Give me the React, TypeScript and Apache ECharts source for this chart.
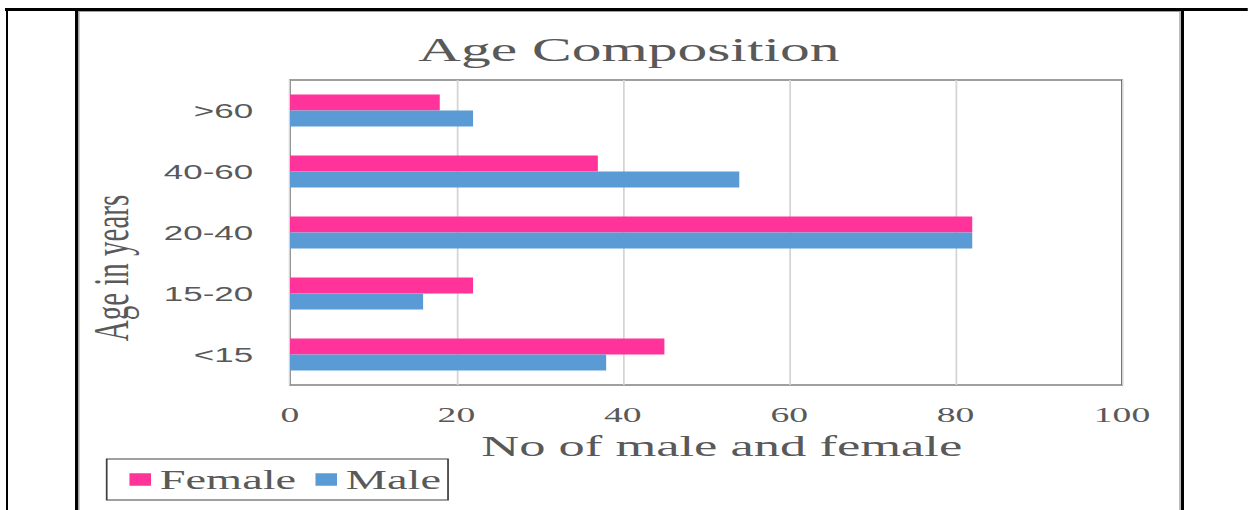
import React, { useEffect, useRef } from "react";
import * as echarts from "echarts";

// Data
const categories = ["<15", "15-20", "20-40", "40-60", ">60"];
const female = [45, 22, 82, 37, 18];
const male = [38, 16, 82, 54, 22];
const seriesNames = ["Female", "Male"];
const xMin = 0;
const xMax = 100;
const xInterval = 20;

// The reference is horizontally stretched; render narrower and stretch.
const S = 1.75;
const W = 1248;
const H = 510;
const IW = W / S;

const SERIF = "'Liberation Serif', 'Times New Roman', serif";
const SANS = "'Liberation Sans', Arial, sans-serif";
const TXT = "#595959";

export default function App() {
  const ref = useRef<HTMLDivElement>(null);
  useEffect(() => {
    if (!ref.current) return;
    const chart = echarts.init(ref.current, null, { renderer: "svg" });
    const sx = (v: number) => v / S;
    const rect = (x: number, y: number, w: number, h: number, fill: string) => ({
      type: "rect",
      silent: true,
      shape: { x: sx(x), y, width: sx(w), height: h },
      style: { fill },
    });
    const option: any = {
      animation: false,
      backgroundColor: "#ffffff",
      title: {
        text: "Age Composition",
        left: sx(620),
        textAlign: "center",
        top: 27,
        textStyle: {
          fontFamily: SERIF,
          fontSize: 34,
          fontWeight: "normal",
          color: TXT,
        },
      },
      legend: {
        data: seriesNames,
        left: sx(106.7),
        top: 459,
        orient: "horizontal",
        icon: "rect",
        itemWidth: 12.3,
        itemHeight: 12.5,
        itemGap: 11,
        padding: [7, 4, 7, 13],
        borderColor: "#404040",
        borderWidth: 1,
        textStyle: { fontFamily: SERIF, fontSize: 26.5, color: TXT },
      },
      grid: {
        left: sx(290),
        top: 80,
        width: sx(832),
        height: 305,
        show: true,
        borderColor: "#404040",
        borderWidth: 1,
        backgroundColor: "transparent",
        containLabel: false,
        outerBoundsMode: "none",
      },
      xAxis: {
        type: "value",
        min: xMin,
        max: xMax,
        interval: xInterval,
        name: "No of male and female",
        nameLocation: "middle",
        nameGap: 36,
        nameTextStyle: {
          fontFamily: SERIF,
          fontSize: 30,
          color: TXT,
          padding: [0, 0, 0, 18],
        },
        axisLine: { show: false },
        axisTick: { show: false },
        axisLabel: {
          margin: 19,
          fontFamily: SERIF,
          fontSize: 21.5,
          color: TXT,
        },
        splitLine: { show: true, lineStyle: { color: "#d4d4d4", width: 1 } },
      },
      yAxis: {
        type: "category",
        data: categories,
        name: "Age in years",
        nameLocation: "middle",
        nameGap: 88,
        nameTextStyle: {
          fontFamily: SERIF,
          fontSize: 29,
          color: TXT,
          padding: [0, 71, 0, 0],
        },
        axisLine: { show: false },
        axisTick: { show: false },
        axisLabel: {
          margin: 21,
          fontFamily: SANS,
          fontSize: 20,
          color: TXT,
        },
        splitLine: { show: false },
      },
      series: [
        {
          name: seriesNames[0],
          type: "bar",
          data: female,
          barWidth: 16,
          barGap: "0%",
          itemStyle: { color: "#FF3399" },
        },
        {
          name: seriesNames[1],
          type: "bar",
          data: male,
          barWidth: 16,
          barGap: "0%",
          itemStyle: { color: "#5B9BD5" },
        },
      ],
      graphic: [
        rect(5, 8, 1243, 3, "#000000"),
        rect(6, 8, 2, 502, "#000000"),
        rect(75, 8, 3.3, 502, "#000000"),
        rect(78.3, 11, 1.2, 499, "#a0a0a0"),
        rect(1181, 8, 3, 502, "#000000"),
        rect(1179.3, 11, 1.4, 499, "#a0a0a0"),
        rect(78.3, 11, 1102, 1, "#a0a0a0"),
      ],
    };
    chart.setOption(option);
    return () => chart.dispose();
  }, []);
  return (
    <div
      style={{
        position: "fixed",
        left: 0,
        top: 0,
        width: W,
        height: H,
        overflow: "hidden",
        background: "#ffffff",
      }}
    >
      <div
        ref={ref}
        style={{
          width: IW,
          height: H,
          transform: `scaleX(${S})`,
          transformOrigin: "0 0",
        }}
      />
    </div>
  );
}
